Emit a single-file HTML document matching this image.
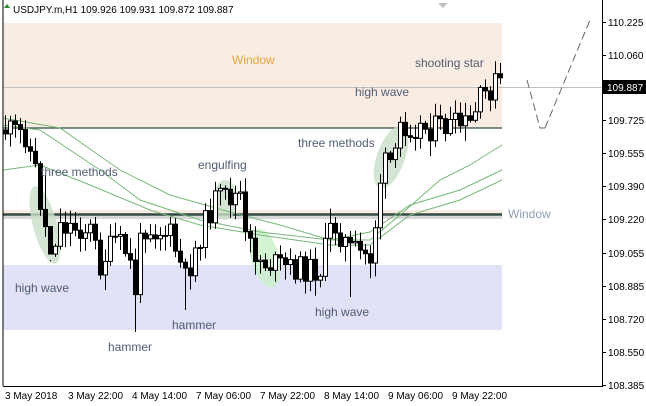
<!DOCTYPE html>
<html><head><meta charset="utf-8"><style>
html,body{margin:0;padding:0;background:#fff;}
svg{display:block;font-family:"Liberation Sans",sans-serif;}
</style></head><body>
<svg id="s" width="646" height="406" xmlns="http://www.w3.org/2000/svg">
<rect x="0" y="0" width="646" height="406" fill="#fff"/>
<rect x="3" y="23" width="499" height="105" fill="#f9ede3"/>
<rect x="3" y="265" width="499" height="65" fill="#e1e1f7"/>
<rect x="3" y="210" width="499" height="8" fill="#f9ede3"/>
<rect x="3" y="216" width="499" height="3" fill="#d8d8d8"/>
<line x1="3" y1="87.5" x2="602" y2="87.5" stroke="#c0c0c0" stroke-width="1"/>
<line x1="3" y1="128" x2="502" y2="128" stroke="#2f4a44" stroke-width="1.2"/>
<line x1="3" y1="214.5" x2="502" y2="214.5" stroke="#2f4a44" stroke-width="2.5"/>
<ellipse cx="45" cy="225" rx="12" ry="40" fill="#c9dec9" opacity="0.8" transform="rotate(-15 45 225)"/>
<ellipse cx="225" cy="200" rx="12" ry="20" fill="#c9dec9" opacity="0.8"/>
<ellipse cx="265" cy="258" rx="14" ry="30" fill="#c8f0c8" opacity="0.8" transform="rotate(-15 265 258)"/>
<ellipse cx="391" cy="157" rx="14" ry="33" fill="#c9dec9" opacity="0.8" transform="rotate(20 391 157)"/>
<g id="ma" fill="none" stroke="#78b878" stroke-width="1"></g>
<g id="c"></g>
<g font-size="12" fill="#4f5d72">
<text x="232" y="64" fill="#e8a53a">Window</text>
<text x="415" y="67">shooting star</text>
<text x="355" y="96">high wave</text>
<text x="298" y="147">three methods</text>
<text x="41" y="176">three methods</text>
<text x="198" y="169">engulfing</text>
<text x="508" y="218" fill="#8ea0b8">Window</text>
<text x="15" y="292">high wave</text>
<text x="172" y="329">hammer</text>
<text x="108" y="351">hammer</text>
<text x="315" y="316">high wave</text>
</g>
<polyline points="527,80 540,128 545,128" fill="none" stroke="#666" stroke-dasharray="8,4"/>
<polyline points="545,128 590,20" fill="none" stroke="#666" stroke-dasharray="8,4"/>
<line x1="3" y1="0" x2="3" y2="386" stroke="#000"/>
<line x1="3" y1="386.5" x2="602" y2="386.5" stroke="#000"/>
<line x1="602.5" y1="0" x2="602.5" y2="387" stroke="#000"/>
<polygon points="438,3 448,3 443,8" fill="#c0c0c0"/>
<polygon points="4,8 10,8 7,4" fill="#2a8a2a"/>
<text x="13" y="13" font-size="10" fill="#000">USDJPY.m,H1  109.926 109.931 109.872 109.887</text>
<g id="ax" font-size="10" fill="#000"></g>
<rect x="603" y="80" width="43" height="14" fill="#000"/>
<text x="607" y="91" font-size="10" fill="#fff">109.887</text>
</svg>
<script>
var NS="http://www.w3.org/2000/svg";
function el(t,a,p){var e=document.createElementNS(NS,t);for(var k in a)e.setAttribute(k,a[k]);document.getElementById(p).appendChild(e);return e;}
var pl=[[110.225,22],[110.060,55],[109.725,120],[109.555,153],[109.390,186],[109.220,219],[109.055,253],[108.885,286],[108.720,319],[108.550,352],[108.385,385]];
pl.forEach(function(p){el("line",{x1:602,y1:p[1]+.5,x2:606,y2:p[1]+.5,stroke:"#000"},"ax");var t=el("text",{x:608,y:p[1]+4},"ax");t.textContent=p[0].toFixed(3);});
var xl=[[4,"3 May 2018"],[67,"3 May 22:00"],[131,"4 May 14:00"],[195,"7 May 06:00"],[259,"7 May 22:00"],[323,"8 May 14:00"],[387,"9 May 06:00"],[451,"9 May 22:00"]];
xl.forEach(function(p){el("line",{x1:p[0]+.5,y1:386,x2:p[0]+.5,y2:391},"ax");var t=el("text",{x:p[0]+1,y:399},"ax");t.textContent=p[1];});
var wp=[[5,130],[25,135],[35,170],[42,215],[50,250],[60,225],[90,230],[100,265],[115,240],[128,255],[135,290],[142,225],[170,235],[185,280],[200,235],[215,200],[240,195],[245,240],[262,262],[290,268],[320,270],[332,222],[350,250],[372,258],[378,190],[383,165],[395,160],[400,125],[430,128],[470,125],[480,100],[498,80],[503,82]];
function yAt(x){for(var i=0;i<wp.length-1;i++){if(x<=wp[i+1][0]){var a=wp[i],b=wp[i+1];return a[1]+(b[1]-a[1])*(x-a[0])/(b[0]-a[0]);}}return 82;}
var seed=11;function r(){seed=(seed*9301+49297)%233280;return seed/233280;}
var prev=yAt(5);
var spikes={50:260,135:332,185:310,350:297,45:175,20:118,500:63};
for(var x=5;x<=503;x+=5){
 var c=yAt(x)+(r()-.5)*26, o=prev;
 var hi=Math.min(o,c)-r()*14-2, lo=Math.max(o,c)+r()*14+2;
 if(spikes[x]){if(spikes[x]>lo)lo=spikes[x];else hi=spikes[x];}
 el("line",{x1:x+.5,y1:hi,x2:x+.5,y2:lo,stroke:"#000"},"c");
 var t=Math.min(o,c),h=Math.max(Math.abs(o-c),1);
 el("rect",{x:x-1.5,y:t,width:4,height:h,fill:c<o?"#fff":"#000",stroke:"#000","stroke-width":1},"c");
 prev=c;}
function line(pts){el("polyline",{points:pts},"ma");}
line("3,118 60,128 120,170 170,195 230,212 280,225 330,240 370,240 400,215 440,180 470,165 502,145");
line("3,125 40,130 100,170 140,200 200,220 260,232 330,240 370,232 410,205 460,190 502,170");
line("3,170 40,165 90,185 150,210 200,225 260,235 330,245 370,245 410,215 460,200 502,180");
</script>
</body></html>
